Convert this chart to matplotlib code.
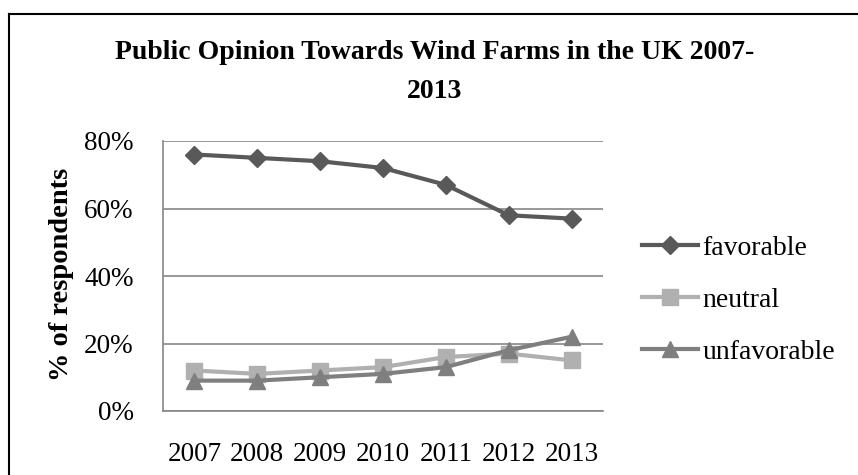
import matplotlib
matplotlib.use("Agg")
import matplotlib.pyplot as plt
from matplotlib.lines import Line2D

years = ["2007", "2008", "2009", "2010", "2011", "2012", "2013"]
favorable = [76, 75, 74, 72, 67, 58, 57]
neutral = [12, 11, 12, 13, 16, 17, 15]
unfavorable = [9, 9, 10, 11, 13, 18, 22]
yticks = [0, 20, 40, 60, 80]
ytick_labels = ["0%", "20%", "40%", "60%", "80%"]

plt.rcParams['font.family'] = ['Liberation Serif', 'DejaVu Serif']

fig = plt.figure(figsize=(8.58, 4.75), dpi=100)
ax = fig.add_axes([163/858, 1 - 411/475, 440/858, 270/475])

x = list(range(len(years)))
ax.plot(x, favorable, color='#595959', lw=3, marker='D', ms=9, label='favorable', zorder=3)
ax.plot(x, neutral, color='#b0b0b0', lw=3, marker='s', ms=11, label='neutral', zorder=3)
ax.plot(x, unfavorable, color='#7f7f7f', lw=3, marker='^', ms=12, label='unfavorable', zorder=4)

ax.set_xlim(-0.5, len(years) - 0.5)
ax.set_ylim(0, 80)
ax.set_yticks(yticks)
ax.set_yticklabels(ytick_labels, fontsize=19.5)
ax.set_xticks(x)
ax.set_xticklabels(years, fontsize=19.5)
ax.tick_params(axis='y', length=0, pad=21)
ax.tick_params(axis='x', length=0, pad=22)
ax.yaxis.grid(True, color='#868686', lw=1.2)
ax.set_axisbelow(True)
for s in ['top', 'right']:
    ax.spines[s].set_visible(False)
for s in ['left', 'bottom']:
    ax.spines[s].set_color('#868686')
    ax.spines[s].set_linewidth(1.2)

ax.set_ylabel('% of respondents', fontsize=20.5, fontweight='bold')
ax.yaxis.set_label_coords((74 - 163) / 440, (411 - 274) / 270)

fig.text(435/858, 1 - 72/475, 'Public Opinion Towards Wind Farms in the UK 2007-\n2013',
         ha='center', va='center', fontsize=20, fontweight='bold', linespacing=1.7)

leg = fig.legend(loc='center left', bbox_to_anchor=(642/858, 1 - 300/475), frameon=False,
                 fontsize=20, handlelength=2.0, handletextpad=0.18, labelspacing=0.95,
                 borderpad=0, borderaxespad=0)

fig.add_artist(Line2D([9/858, 1], [1 - 14/475, 1 - 14/475], color='black', lw=1.5,
                      transform=fig.transFigure))
fig.add_artist(Line2D([9/858, 9/858], [0, 1 - 14/475], color='black', lw=1.5,
                      transform=fig.transFigure))

fig.savefig('out.png', dpi=100)
